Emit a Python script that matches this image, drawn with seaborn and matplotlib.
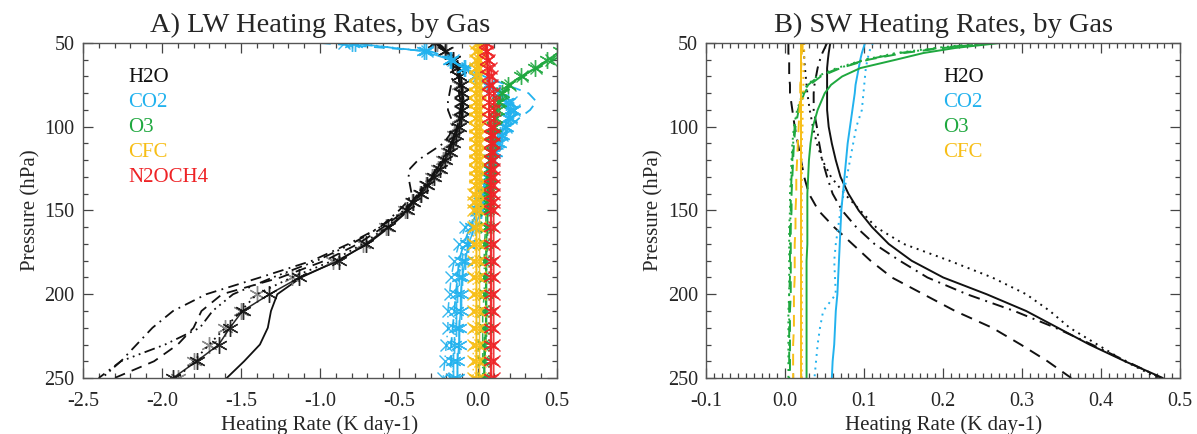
import matplotlib
matplotlib.use("Agg")
import matplotlib.pyplot as plt
from matplotlib.ticker import MultipleLocator
import seaborn as sns

# ---- LW panel data (K/day) on pressure levels (hPa)
P_LW = [50, 55, 60, 65, 70, 75, 80, 85, 90, 95, 100, 105, 110, 115, 120, 125, 130, 135, 140, 145, 150,
        160, 170, 180, 190, 200, 210, 220, 230, 240, 250]

lw_h2o_solid = [-0.27, -0.20, -0.15, -0.12, -0.11, -0.10, -0.095, -0.09, -0.095, -0.10, -0.11, -0.13, -0.15, -0.17, -0.20,
                -0.24, -0.27, -0.31, -0.35, -0.40, -0.44, -0.56, -0.70, -0.89, -1.12, -1.27, -1.31, -1.33, -1.38, -1.48, -1.59]
lw_h2o_star = [-0.27, -0.21, -0.16, -0.13, -0.12, -0.11, -0.10, -0.10, -0.10, -0.11, -0.12, -0.14, -0.16, -0.18, -0.21,
               -0.24, -0.28, -0.32, -0.36, -0.41, -0.45, -0.57, -0.71, -0.88, -1.13, -1.32, -1.49, -1.57, -1.64, -1.78, -1.93]
lw_h2o_dot = [-0.26, -0.20, -0.16, -0.13, -0.12, -0.12, -0.11, -0.11, -0.11, -0.12, -0.13, -0.15, -0.17, -0.19, -0.22,
              -0.25, -0.29, -0.33, -0.37, -0.42, -0.46, -0.58, -0.73, -0.92, -1.18, -1.40, -1.50, -1.60, -1.70, -1.80, -1.90]
lw_h2o_dash = [-0.26, -0.20, -0.16, -0.13, -0.12, -0.12, -0.12, -0.11, -0.11, -0.12, -0.13, -0.15, -0.17, -0.19, -0.22,
               -0.26, -0.29, -0.33, -0.37, -0.41, -0.46, -0.60, -0.76, -0.97, -1.25, -1.62, -1.75, -1.80, -1.90, -2.05, -2.30]
lw_h2o_dashdot = [-0.25, -0.20, -0.17, -0.16, -0.16, -0.17, -0.18, -0.19, -0.19, -0.17, -0.16, -0.18, -0.22, -0.30, -0.38,
                  -0.43, -0.44, -0.43, -0.42, -0.45, -0.50, -0.62, -0.82, -1.05, -1.38, -1.72, -1.93, -2.06, -2.16, -2.26, -2.40]
lw_h2o_dashdotdot = [-0.26, -0.20, -0.16, -0.13, -0.12, -0.12, -0.11, -0.11, -0.11, -0.12, -0.13, -0.15, -0.17, -0.20, -0.23,
                     -0.26, -0.30, -0.34, -0.38, -0.42, -0.47, -0.62, -0.80, -1.02, -1.30, -1.55, -1.68, -1.76, -1.98, -2.26, -2.38]

lw_co2_star = [-0.80, -0.34, -0.18, -0.09, -0.02, 0.06, 0.13, 0.18, 0.20, 0.19, 0.17, 0.14, 0.12, 0.10, 0.08,
               0.07, 0.06, 0.05, 0.04, 0.03, 0.02, -0.02, -0.06, -0.08, -0.10, -0.11, -0.11, -0.12, -0.12, -0.13, -0.13]
lw_co2_dash = [-1.00, -0.30, -0.14, -0.05, 0.04, 0.18, 0.32, 0.37, 0.33, 0.26, 0.20, 0.16, 0.13, 0.11, 0.09,
               0.07, 0.06, 0.05, 0.04, 0.02, 0.00, -0.05, -0.09, -0.12, -0.13, -0.14, -0.15, -0.16, -0.17, -0.17, -0.18]
lw_co2_dashdot = [-0.85, -0.32, -0.16, -0.07, 0.00, 0.08, 0.15, 0.21, 0.23, 0.21, 0.18, 0.15, 0.12, 0.10, 0.08,
                  0.06, 0.05, 0.04, 0.03, 0.01, -0.01, -0.08, -0.12, -0.15, -0.17, -0.18, -0.19, -0.19, -0.20, -0.21, -0.22]
lw_co2_dot = [-0.78, -0.33, -0.17, -0.08, -0.01, 0.07, 0.14, 0.19, 0.22, 0.20, 0.18, 0.15, 0.13, 0.11, 0.09,
              0.07, 0.06, 0.05, 0.03, 0.02, 0.01, -0.04, -0.07, -0.10, -0.12, -0.13, -0.14, -0.14, -0.15, -0.16, -0.16]

lw_o3_star = [0.62, 0.52, 0.44, 0.36, 0.27, 0.19, 0.15, 0.13, 0.12, 0.11, 0.10, 0.09, 0.09, 0.08, 0.08,
              0.07, 0.07, 0.07, 0.06, 0.06, 0.06, 0.06, 0.05, 0.05, 0.05, 0.05, 0.05, 0.05, 0.04, 0.04, 0.04]
lw_o3_dash = [0.72, 0.58, 0.48, 0.38, 0.29, 0.21, 0.16, 0.14, 0.12, 0.11, 0.10, 0.10, 0.09, 0.09, 0.08,
              0.08, 0.07, 0.07, 0.07, 0.06, 0.06, 0.06, 0.06, 0.05, 0.05, 0.05, 0.05, 0.05, 0.05, 0.04, 0.04]
lw_o3_dashdot = [0.66, 0.55, 0.46, 0.37, 0.28, 0.20, 0.15, 0.13, 0.11, 0.10, 0.09, 0.09, 0.08, 0.08, 0.07,
                 0.07, 0.06, 0.06, 0.06, 0.05, 0.05, 0.05, 0.04, 0.04, 0.04, 0.04, 0.03, 0.03, 0.03, 0.03, 0.03]

lw_cfc_star = [0.01, 0.00, 0.00, -0.01, -0.01, -0.01, -0.01, -0.01, -0.01, -0.01, -0.01, -0.01, -0.01, -0.01, -0.01,
               -0.01, -0.01, -0.01, -0.01, -0.01, -0.01, -0.01, -0.01, -0.01, -0.01, -0.01, -0.01, -0.01, -0.01, -0.01, -0.01]
lw_cfc_x = [0.02, 0.02, 0.01, 0.01, 0.01, 0.01, 0.01, 0.01, 0.01, 0.01, 0.01, 0.01, 0.01, 0.01, 0.01,
            0.01, 0.01, 0.01, 0.01, 0.01, 0.01, 0.01, 0.01, 0.01, 0.01, 0.01, 0.01, 0.01, 0.01, 0.01, 0.01]
lw_cfc_dot = [-0.01, -0.02, -0.02, -0.02, -0.02, -0.02, -0.02, -0.02, -0.02, -0.02, -0.02, -0.02, -0.02, -0.02, -0.02,
              -0.02, -0.02, -0.02, -0.03, -0.03, -0.03, -0.03, -0.03, -0.03, -0.03, -0.03, -0.03, -0.03, -0.03, -0.03, -0.03]

lw_n2o_star = [0.05, 0.05, 0.06, 0.06, 0.07, 0.07, 0.07, 0.07, 0.07, 0.07, 0.08, 0.08, 0.08, 0.08, 0.08,
               0.08, 0.08, 0.08, 0.08, 0.08, 0.08, 0.08, 0.08, 0.08, 0.08, 0.08, 0.08, 0.08, 0.08, 0.08, 0.08]
lw_n2o_x = [0.06, 0.06, 0.07, 0.08, 0.09, 0.09, 0.10, 0.10, 0.10, 0.10, 0.10, 0.10, 0.10, 0.10, 0.10,
            0.10, 0.10, 0.10, 0.10, 0.10, 0.10, 0.10, 0.10, 0.10, 0.10, 0.10, 0.10, 0.10, 0.10, 0.10, 0.10]

# ---- SW panel data
P_SW = [50, 53, 56, 60, 65, 70, 75, 80, 90, 100, 110, 120, 130, 140, 150, 160, 170, 180, 190, 200, 210, 220, 230, 240, 250]

sw_h2o_solid = [0.057, 0.056, 0.055, 0.054, 0.053, 0.053, 0.053, 0.053, 0.053, 0.055, 0.059, 0.064, 0.070,
                0.080, 0.093, 0.110, 0.131, 0.160, 0.200, 0.255, 0.305, 0.345, 0.385, 0.430, 0.478]
sw_h2o_dot = [0.023, 0.023, 0.024, 0.024, 0.025, 0.026, 0.027, 0.028, 0.031, 0.035, 0.040, 0.047, 0.058,
              0.075, 0.095, 0.115, 0.150, 0.208, 0.262, 0.305, 0.335, 0.360, 0.395, 0.430, 0.472]
sw_h2o_dashdot = [0.053, 0.050, 0.047, 0.044, 0.041, 0.039, 0.037, 0.036, 0.036, 0.040, 0.043, 0.047, 0.053,
                  0.060, 0.072, 0.090, 0.113, 0.145, 0.180, 0.230, 0.290, 0.342, 0.388, 0.432, 0.476]
sw_h2o_dash = [0.004, 0.004, 0.004, 0.005, 0.005, 0.005, 0.006, 0.006, 0.009, 0.012, 0.016, 0.020, 0.024,
               0.030, 0.042, 0.062, 0.085, 0.108, 0.135, 0.175, 0.215, 0.262, 0.298, 0.332, 0.362]

sw_co2_solid = [0.101, 0.099, 0.097, 0.095, 0.093, 0.091, 0.089, 0.088, 0.085, 0.082, 0.079, 0.077, 0.075,
                0.073, 0.071, 0.070, 0.069, 0.068, 0.067, 0.066, 0.064, 0.063, 0.062, 0.060, 0.059]
sw_co2_dot = [0.111, 0.108, 0.106, 0.104, 0.102, 0.101, 0.100, 0.099, 0.097, 0.090, 0.086, 0.082, 0.078,
              0.074, 0.070, 0.067, 0.064, 0.062, 0.063, 0.064, 0.048, 0.044, 0.041, 0.039, 0.037]

sw_o3_solid = [0.272, 0.215, 0.175, 0.140, 0.095, 0.072, 0.058, 0.050, 0.041, 0.035, 0.032, 0.030, 0.029,
               0.028, 0.028, 0.028, 0.028, 0.027, 0.027, 0.027, 0.027, 0.027, 0.027, 0.027, 0.027]
sw_o3_dot = [0.250, 0.190, 0.140, 0.100, 0.065, 0.040, 0.028, 0.022, 0.015, 0.011, 0.009, 0.008, 0.007,
             0.006, 0.006, 0.005, 0.005, 0.005, 0.005, 0.005, 0.004, 0.004, 0.004, 0.004, 0.004]
sw_o3_dash = [0.262, 0.200, 0.150, 0.105, 0.070, 0.045, 0.031, 0.024, 0.017, 0.013, 0.011, 0.010, 0.009,
              0.008, 0.008, 0.007, 0.007, 0.007, 0.007, 0.007, 0.006, 0.006, 0.006, 0.006, 0.006]
sw_o3_dashdot = [0.255, 0.195, 0.145, 0.102, 0.068, 0.042, 0.029, 0.023, 0.016, 0.012, 0.010, 0.009, 0.008,
                 0.007, 0.007, 0.006, 0.006, 0.006, 0.006, 0.005, 0.005, 0.005, 0.005, 0.005, 0.005]

sw_cfc_solid = [0.020, 0.020, 0.020, 0.020, 0.020, 0.020, 0.020, 0.020, 0.020, 0.020, 0.020, 0.020, 0.020,
                0.020, 0.020, 0.020, 0.020, 0.020, 0.020, 0.020, 0.020, 0.020, 0.020, 0.020, 0.020]
sw_cfc_dot = [0.024, 0.024, 0.024, 0.024, 0.023, 0.023, 0.023, 0.023, 0.022, 0.022, 0.021, 0.021, 0.021,
              0.021, 0.021, 0.021, 0.021, 0.021, 0.021, 0.021, 0.021, 0.021, 0.021, 0.021, 0.021]
sw_cfc_dash = [0.022, 0.022, 0.021, 0.021, 0.020, 0.020, 0.019, 0.019, 0.018, 0.017, 0.016, 0.015, 0.014,
               0.014, 0.013, 0.013, 0.012, 0.012, 0.012, 0.011, 0.011, 0.011, 0.010, 0.010, 0.010]

LW_GASES = ["H2O", "CO2", "O3", "CFC", "N2OCH4"]
SW_GASES = ["H2O", "CO2", "O3", "CFC"]

COLORS = {"H2O": "#111111", "CO2": "#22B2EE", "O3": "#1FA83F", "CFC": "#F7BE16", "N2OCH4": "#EE2326"}
GREY = "#808080"

LS = {
    "solid": "-",
    "none": "none",
    "dot": (0, (1, 2.5)),
    "dash": (0, (6, 4)),
    "dashdot": (0, (6, 3, 1, 3)),
    "dashdotdot": (0, (6, 2.5, 1, 2.5, 1, 2.5, 1, 2.5)),
}
ASTER = (6, 2, 0)

# (gas, values, linestyle, marker, colour override)
lw_series = [
    ("H2O", lw_h2o_solid, "solid", None, None),
    ("H2O", lw_h2o_dot, "none", ASTER, GREY),
    ("H2O", lw_h2o_dot, "dot", None, None),
    ("H2O", lw_h2o_dash, "dash", None, None),
    ("H2O", lw_h2o_dashdot, "dashdot", None, None),
    ("H2O", lw_h2o_dashdotdot, "dashdotdot", None, None),
    ("H2O", lw_h2o_star, "solid", ASTER, None),
    ("CO2", lw_co2_dash, "dash", None, None),
    ("CO2", lw_co2_dashdot, "dashdot", "x", None),
    ("CO2", lw_co2_dot, "dot", ASTER, None),
    ("CO2", lw_co2_star, "solid", ASTER, None),
    ("O3", lw_o3_dash, "dash", None, None),
    ("O3", lw_o3_dashdot, "dashdot", "x", None),
    ("O3", lw_o3_star, "solid", ASTER, None),
    ("CFC", lw_cfc_dot, "dot", "x", None),
    ("CFC", lw_cfc_x, "solid", "x", None),
    ("CFC", lw_cfc_star, "solid", ASTER, None),
    ("N2OCH4", lw_n2o_x, "solid", "x", None),
    ("N2OCH4", lw_n2o_star, "solid", ASTER, None),
]

sw_series = [
    ("H2O", sw_h2o_solid, "solid"),
    ("H2O", sw_h2o_dot, "dot"),
    ("H2O", sw_h2o_dashdot, "dashdot"),
    ("H2O", sw_h2o_dash, "dash"),
    ("CO2", sw_co2_solid, "solid"),
    ("CO2", sw_co2_dot, "dot"),
    ("O3", sw_o3_dot, "dot"),
    ("O3", sw_o3_dash, "dash"),
    ("O3", sw_o3_dashdot, "dashdot"),
    ("O3", sw_o3_solid, "solid"),
    ("CFC", sw_cfc_dash, "dash"),
    ("CFC", sw_cfc_dot, "dot"),
    ("CFC", sw_cfc_solid, "solid"),
]

sns.set_style("ticks")
plt.rcParams["font.family"] = ["Liberation Serif", "DejaVu Serif"]
plt.rcParams["axes.unicode_minus"] = False


def style_axes(ax, xlim, xmaj, xmin, title):
    ax.set_xlim(*xlim)
    ax.set_ylim(250, 50)
    ax.xaxis.set_major_locator(MultipleLocator(xmaj))
    ax.xaxis.set_minor_locator(MultipleLocator(xmin))
    ax.yaxis.set_major_locator(MultipleLocator(50))
    ax.yaxis.set_minor_locator(MultipleLocator(10))
    ax.tick_params(which="both", direction="in", top=True, right=True, color="#444444",
                   labelsize=14.5, width=0.9)
    ax.tick_params(which="major", length=7)
    ax.tick_params(axis="x", which="major", pad=10)
    ax.tick_params(axis="y", which="major", pad=6)
    ax.tick_params(which="minor", length=3.5)
    for s in ax.spines.values():
        s.set_color("#555555")
        s.set_linewidth(1.0)
    ax.set_xlabel("Heating Rate (K day-1)", fontsize=15, labelpad=3)
    ax.set_ylabel("Pressure (hPa)", fontsize=15, labelpad=3)
    ax.set_title(title, fontsize=20.5, pad=8)


def gas_labels(ax, gases, x0):
    for i, g in enumerate(gases):
        ax.text(x0, 0.896 - i * 0.0746, g, color=COLORS[g], fontsize=15,
                transform=ax.transAxes, va="center", ha="left")


fig = plt.figure(figsize=(11.97, 4.34), dpi=100)
ax1 = fig.add_axes([0.0693, 0.129, 0.396, 0.772])
ax2 = fig.add_axes([0.590, 0.129, 0.396, 0.772])

for gas, vals, ls, mk, over in lw_series:
    col = over or COLORS[gas]
    if mk is None:
        sns.lineplot(x=vals, y=P_LW, ax=ax1, color=col, linestyle=LS[ls], lw=1.3,
                     sort=False, estimator=None, legend=False)
    else:
        sns.lineplot(x=vals, y=P_LW, ax=ax1, color=col, linestyle=LS[ls], lw=1.1,
                     marker=mk, markersize=12 if mk == ASTER else 9,
                     markeredgecolor=col, markeredgewidth=1.0, alpha=0.9,
                     sort=False, estimator=None, legend=False)

for gas, vals, ls in sw_series:
    sns.lineplot(x=vals, y=P_SW, ax=ax2, color=COLORS[gas], linestyle=LS[ls], lw=1.4,
                 sort=False, estimator=None, legend=False)

style_axes(ax1, (-2.5, 0.5), 0.5, 0.1, "A) LW Heating Rates, by Gas")
style_axes(ax2, (-0.1, 0.5), 0.1, 0.01, "B) SW Heating Rates, by Gas")
gas_labels(ax1, LW_GASES, 0.095)
gas_labels(ax2, SW_GASES, 0.50)

fig.savefig("out.png", dpi=100)
